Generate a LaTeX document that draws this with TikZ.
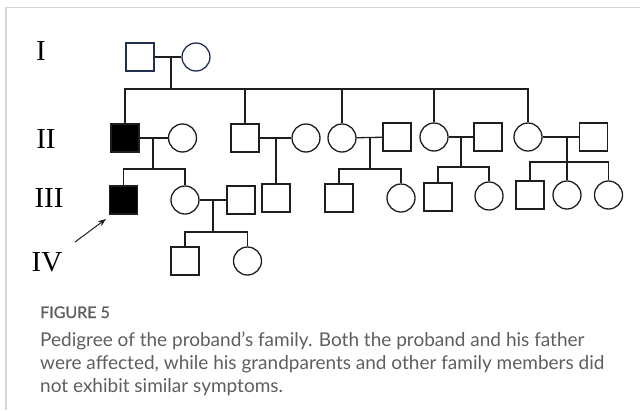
\documentclass[tikz,border=0pt]{standalone}
\usepackage{fontspec}
\setmainfont{Liberation Serif}
\newfontfamily\capfont{Lato}
\newfontfamily\figfont[FakeBold=1]{Lato}
\usetikzlibrary{arrows.meta}
\definecolor{lc}{HTML}{1E1E1E}
\definecolor{navy}{HTML}{22304F}
\definecolor{capgray}{HTML}{5E5E5E}
\definecolor{framegray}{HTML}{D4D4D4}
\begin{document}
\begin{tikzpicture}[x=1pt,y=-1pt,
  male/.style={draw=lc, line width=1.3pt, rectangle, minimum size=28pt, inner sep=0pt},
  female/.style={draw=lc, line width=1.3pt, circle, minimum size=28pt, inner sep=0pt},
  aff/.style={fill=black},
  founder/.style={draw=navy},
  conn/.style={draw=lc, line width=1.3pt},
  gen/.style={font=\fontsize{29}{29}\selectfont, inner sep=0pt},
  capline/.style={font=\capfont\fontsize{19}{23}\selectfont, text=capgray, anchor=base west, inner sep=0pt},
  proarrow/.style={draw=lc, line width=1pt, -{Stealth[length=8pt,width=6pt]}}]
\useasboundingbox (0,0) rectangle (640,410);
\draw[framegray, line width=1.5pt] (6,410) -- (6,7.5) -- (640,7.5);

% generation labels
\node[gen] (gI) at (41,51) {I};
\node[gen] (gII) at (46,139) {II};
\node[gen] (gIII) at (49,198) {III};
\node[gen] (gIV) at (47,262) {IV};

% Generation I
\node[male,founder] (I1) at (140,57) {};
\node[female,founder] (I2) at (196,57) {};
\coordinate (mI) at (171,57);
\coordinate (sI) at (171,89);
\draw[conn] (I1) -- (I2);
\draw[conn] (mI) -- (sI);

% Generation II
\node[male,aff] (IIa) at (125,138) {};
\node[female] (IIaw) at (182.5,138) {};
\node[male] (IIb) at (245,138) {};
\node[female] (IIbw) at (306,138) {};
\node[female] (IIc) at (342,138) {};
\node[male] (IIch) at (397,137) {};
\node[female] (IId) at (434,137) {};
\node[male] (IIdh) at (488,137) {};
\node[female] (IIe) at (528,137) {};
\node[male] (IIeh) at (593.5,137) {};

\draw[conn] (IIa.north) |- (sI) -| (IIe.north);
\draw[conn] (IIb.north) -- (IIb.north |- sI);
\draw[conn] (IIc.north) -- (IIc.north |- sI);
\draw[conn] (IId.north) -- (IId.north |- sI);

\draw[conn] (IIa) -- (IIaw);
\draw[conn] (IIb) -- (IIbw);
\draw[conn] (IIc) -- (IIch);
\draw[conn] (IId) -- (IIdh);
\draw[conn] (IIe) -- (IIeh);

% Generation III
\node[male,aff] (IIIa) at (123.5,200) {};
\node[female] (IIIb) at (185,200) {};
\node[male] (IIIbh) at (241,200) {};
\node[male] (IIIc) at (276,198) {};
\node[male] (IIId) at (339,198) {};
\node[female] (IIIe) at (401,198) {};
\node[male] (IIIf) at (438,197) {};
\node[female] (IIIg) at (489,196) {};
\node[male] (IIIh) at (530,195) {};
\node[female] (IIIi) at (567,195) {};
\node[female] (IIIj) at (608.5,195) {};

% family of IIa
\coordinate (mIIa) at (153,138);
\coordinate (sIIa) at (153,169);
\draw[conn] (mIIa) -- (sIIa);
\draw[conn] (IIIa.north) |- (sIIa) -| (IIIb.north);
% family of IIb
\coordinate (mIIb) at (276,138);
\draw[conn] (mIIb) -- (IIIc.north);
% family of IIc
\coordinate (mIIc) at (370,138);
\coordinate (sIIc) at (370,169);
\draw[conn] (mIIc) -- (sIIc);
\draw[conn] (IIId.north) |- (sIIc) -| (IIIe.north);
% family of IId
\coordinate (mIId) at (461,137);
\coordinate (sIId) at (461,167);
\draw[conn] (mIId) -- (sIId);
\draw[conn] (IIIf.north) |- (sIId) -| (IIIg.north);
% family of IIe
\coordinate (mIIe) at (567,137);
\coordinate (sIIe) at (567,162);
\draw[conn] (mIIe) -- (IIIi.north);
\draw[conn] (IIIh.north) |- (sIIe) -| (IIIj.north);

% Generation IV
\draw[conn] (IIIb) -- (IIIbh);
\node[male] (IVa) at (185,261) {};
\node[female] (IVb) at (247.5,261) {};
\coordinate (mIIIb) at (213,200);
\coordinate (sIIIb) at (213,232);
\draw[conn] (mIIIb) -- (sIIIb);
\draw[conn] (IVa.north) |- (sIIIb) -| (IVb.north);

% proband arrow
\coordinate (arrS) at (75,242);
\coordinate (arrE) at (106,219);
\draw[proarrow] (arrS) -- (arrE);

% caption
\node[capline, font=\figfont\fontsize{16}{16}\selectfont] (fig) at (40,318) {FIGURE 5};
\node[capline] (c1) at (40,346) {Pedigree of the proband’s family. Both the proband and his father};
\node[capline] (c2) at (40,369) {were affected, while his grandparents and other family members did};
\node[capline] (c3) at (40,392) {not exhibit similar symptoms.};
\end{tikzpicture}
\end{document}
